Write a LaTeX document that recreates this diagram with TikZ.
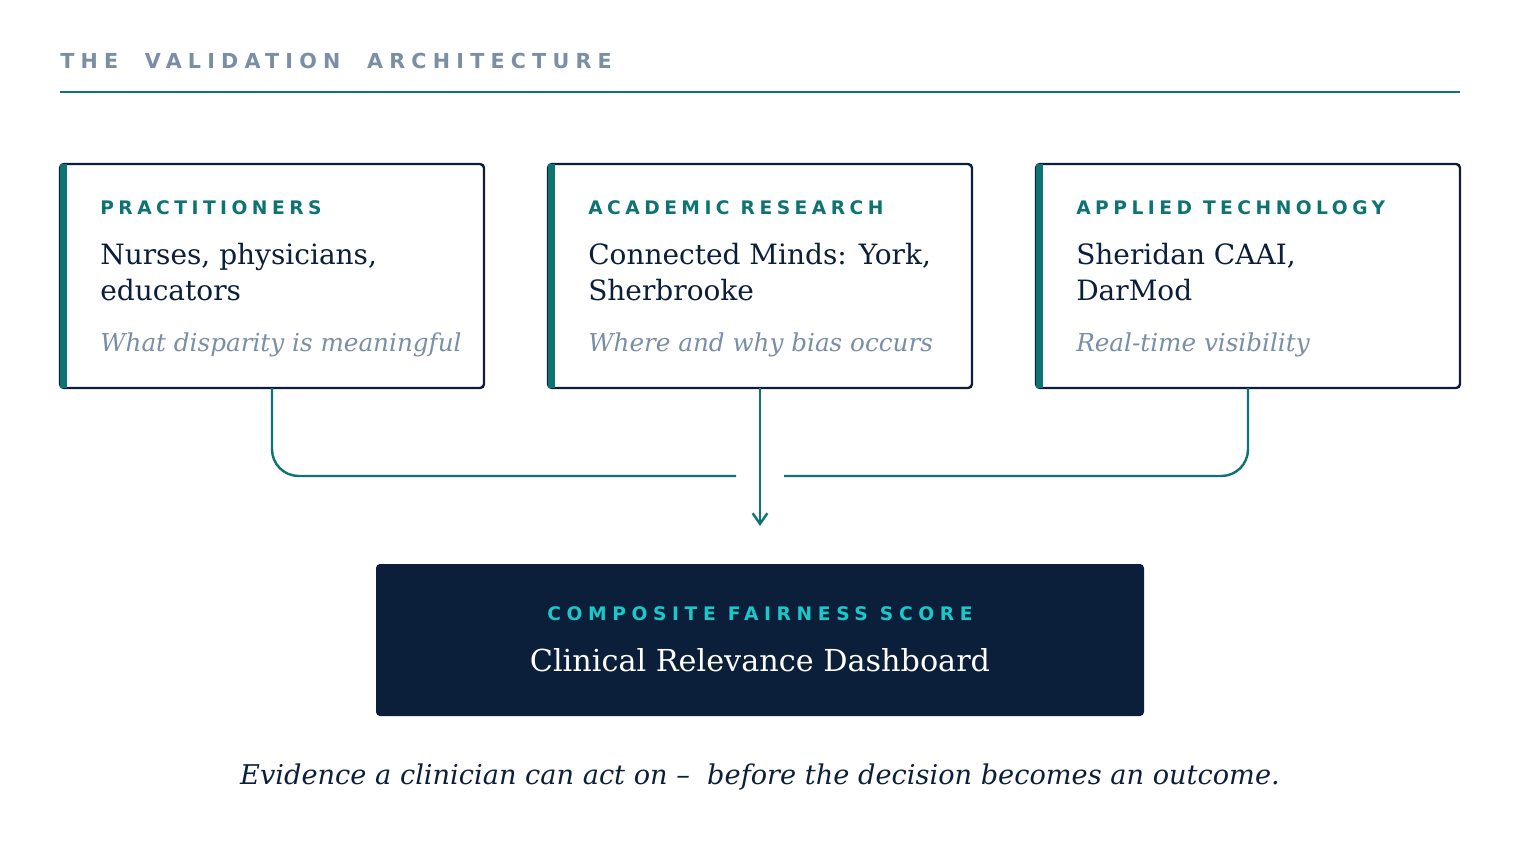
\documentclass[tikz,border=0pt]{standalone}
\usepackage{fontspec}
\setmainfont{DejaVu Serif}
\setsansfont{DejaVu Sans}
\usetikzlibrary{arrows.meta}
\definecolor{navy}{HTML}{0C1F3A}
\definecolor{teal}{HTML}{0E7373}
\definecolor{slate}{HTML}{7A8FA6}
\definecolor{cyan}{HTML}{19C9C9}
\newcommand{\capslbl}[2][24]{{\sffamily\bfseries\addfontfeature{LetterSpace=#1}#2}}
\begin{document}
\begin{tikzpicture}[x=0.75pt,y=-0.75pt,
  card/.style={draw=navy,line width=1.8pt,rounded corners=3pt,fill=white},
  lbl/.style={anchor=base west,inner sep=0,text=teal,font=\fontsize{14}{16}\selectfont},
  body/.style={anchor=base west,inner sep=0,text=navy,align=left,font=\fontsize{21}{27}\selectfont},
  note/.style={anchor=base west,inner sep=0,text=slate,font=\fontsize{18.5}{20}\selectfont\itshape},
  conn/.style={draw=teal,line width=1.8pt}]
\path[use as bounding box] (0,0) rectangle (1520,860);
\node[anchor=base west,inner sep=0,text=slate,font=\fontsize{15.5}{18}\selectfont] (title) at (60,68) {\capslbl[30]{THE\ \ VALIDATION\ \ ARCHITECTURE}};
\draw[teal,line width=2pt] (60,92) -- (1460,92);
\foreach \n/\x/\a/\b/\c in {p/60/PRACTITIONERS/{Nurses, physicians,\\educators}/What disparity is meaningful,
  a/548/ACADEMIC RESEARCH/{Connected Minds: York,\\Sherbrooke}/Where and why bias occurs,
  t/1036/APPLIED TECHNOLOGY/{Sheridan CAAI,\\DarMod}/Real-time visibility}{
  \draw[card] (\x,164) rectangle ++(424,224);
  \fill[teal] (\x,164) rectangle ++(7,224);
  \coordinate (\n-bot) at (\x+212,388);
  \node[lbl] (\n-l) at (\x+40,214) {\capslbl{\a}};
  \node[body] (\n-b) at (\x+40,300) {\b};
  \node[note] (\n-n) at (\x+40,351) {\c};
}
\coordinate (jl) at (736,476);
\coordinate (jr) at (784,476);
\coordinate (tip) at (760,526);
\draw[conn,rounded corners=20pt] (p-bot) |- (jl);
\draw[conn,rounded corners=20pt] (t-bot) |- (jr);
\draw[conn,-{Straight Barb[length=8pt,width=11pt]}] (a-bot) -- (tip);
\fill[navy,rounded corners=3pt] (376,564) rectangle (1144,716);
\node[anchor=base,inner sep=0,text=cyan,font=\fontsize{14}{16}\selectfont] (cl) at (760,620) {\capslbl[30]{COMPOSITE\ FAIRNESS\ SCORE}};
\node[anchor=base,inner sep=0,text=white,font=\fontsize{22.7}{26}\selectfont] (cb) at (760,671) {Clinical Relevance Dashboard};
\node[anchor=base,inner sep=0,text=navy,font=\fontsize{20.4}{24}\selectfont\itshape] (foot) at (760,784) {Evidence a clinician can act on --\ \ before the decision becomes an outcome.};
\end{tikzpicture}
\end{document}
